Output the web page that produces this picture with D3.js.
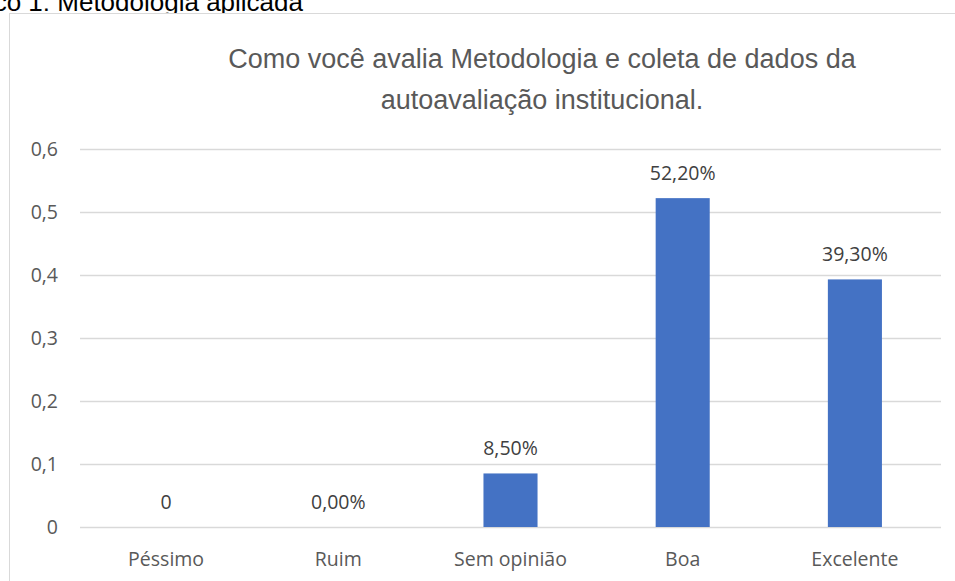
<!DOCTYPE html>
<html>
<head>
<meta charset="utf-8">
<script src="https://cdn.jsdelivr.net/npm/d3@7"></script>
<style>
body { margin: 0; background: #fff; }
svg { display: block; }
</style>
</head>
<body>
<div id="chart"></div>
<script>
// dados do gráfico
var categorias = ["Péssimo", "Ruim", "Sem opinião", "Boa", "Excelente"];
var valores = [0, 0, 0.085, 0.522, 0.393];
var rotulos = ["0", "0,00%", "8,50%", "52,20%", "39,30%"];
var ticksY = [0, 0.1, 0.2, 0.3, 0.4, 0.5, 0.6];
var titulo = ["Como você avalia Metodologia e coleta de dados da", "autoavaliação institucional."];
var legenda = "Gráfico 1: Metodologia aplicada";

var W = 955, H = 581;
var margin = {top: 149, right: 14, bottom: 54, left: 80};
var fonteEixo = "Open Sans, sans-serif";

var svg = d3.select("#chart").append("svg")
    .attr("width", W)
    .attr("height", H);

// legenda do documento, cortada no topo
svg.append("text")
    .attr("x", 303)
    .attr("y", 11)
    .attr("text-anchor", "end")
    .style("font-family", "Liberation Sans, Arial, sans-serif")
    .style("font-size", "26px")
    .style("fill", "#000")
    .text(legenda);

// moldura da área do gráfico
svg.append("rect")
    .attr("x", 9.5)
    .attr("y", 13.5)
    .attr("width", 1000)
    .attr("height", 700)
    .style("fill", "#fff")
    .style("stroke", "#d9d9d9")
    .style("stroke-width", 1);

var width = W - margin.left - margin.right;
var height = H - margin.top - margin.bottom;

var x = d3.scaleBand()
    .domain(categorias)
    .range([0, width])
    .paddingInner(0.686)
    .paddingOuter(0.343);

var y = d3.scaleLinear()
    .domain([0, 0.6])
    .range([height, 0]);

var g = svg.append("g")
    .attr("transform", "translate(" + margin.left + "," + margin.top + ")");

// linhas de grade e eixo y
var eixoY = g.append("g")
    .call(d3.axisLeft(y)
        .tickValues(ticksY)
        .tickSize(-width)
        .tickPadding(22)
        .tickFormat(function (d) { return d === 0 ? "0" : d3.format(".1f")(d).replace(".", ","); }));
eixoY.select(".domain").remove();
eixoY.selectAll("line")
    .style("stroke", "#d9d9d9")
    .style("stroke-width", 1.3);
eixoY.selectAll("text")
    .style("font-family", fonteEixo)
    .style("font-size", "19.5px")
    .style("fill", "#595959");

// eixo x
var eixoX = g.append("g")
    .attr("transform", "translate(0," + height + ")")
    .call(d3.axisBottom(x).tickSize(0).tickPadding(25));
eixoX.select(".domain").remove();
eixoX.selectAll("text")
    .style("font-family", fonteEixo)
    .style("font-size", "19.5px")
    .style("fill", "#595959");

// barras
g.selectAll(".bar")
    .data(valores)
    .enter().append("rect")
    .attr("class", "bar")
    .attr("x", function (d, i) { return x(categorias[i]); })
    .attr("y", function (d) { return y(d); })
    .attr("width", x.bandwidth())
    .attr("height", function (d) { return height - y(d); })
    .style("fill", "#4472c4");

// rótulos de dados
g.selectAll(".rotulo")
    .data(valores)
    .enter().append("text")
    .attr("class", "rotulo")
    .attr("x", function (d, i) { return x(categorias[i]) + x.bandwidth() / 2; })
    .attr("y", function (d) { return y(d) - 18; })
    .attr("text-anchor", "middle")
    .style("font-family", fonteEixo)
    .style("font-size", "19.5px")
    .style("fill", "#404040")
    .text(function (d, i) { return rotulos[i]; });

// título
svg.append("g").selectAll("text")
    .data(titulo)
    .enter().append("text")
    .attr("x", 542)
    .attr("y", function (d, i) { return 68 + i * 41; })
    .attr("text-anchor", "middle")
    .style("font-family", "Liberation Sans, Arial, sans-serif")
    .style("font-size", "27px")
    .style("fill", "#595959")
    .text(function (d) { return d; });
</script>
</body>
</html>
